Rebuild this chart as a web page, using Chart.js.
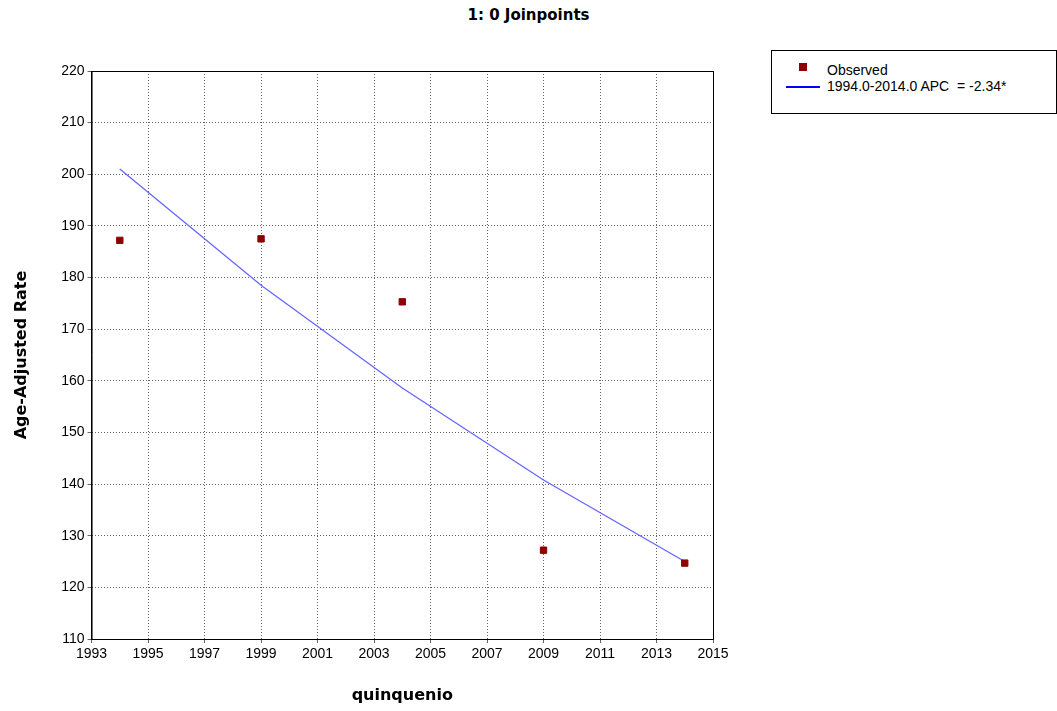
<!DOCTYPE html>
<html><head><meta charset="utf-8">
<script src="https://cdn.jsdelivr.net/npm/chart.js@4.4.0/dist/chart.umd.min.js"></script>
<style>
body{margin:0;background:#fff;font-family:"DejaVu Sans",sans-serif}
#wrap{position:absolute;left:0;top:0;width:740px;height:711px}
#leg{position:absolute;left:771px;top:50px;width:284px;height:62px;border:1px solid #000;font:14px "Liberation Sans",Arial,sans-serif;color:#000}
#ttl{position:absolute;left:0;width:1057px;top:6px;text-align:center;font:bold 15px "DejaVu Sans",sans-serif}
</style></head><body>
<div id="ttl">1: 0 Joinpoints</div>
<div id="wrap"><canvas id="c"></canvas></div>
<div id="leg">
 <div style="position:absolute;left:27px;top:12px;width:8px;height:8px;background:#8b0000"></div>
 <div style="position:absolute;left:55px;top:11px">Observed</div>
 <div style="position:absolute;left:14px;top:35px;width:34px;height:2px;background:#0000ff"></div>
 <div style="position:absolute;left:55px;top:27px">1994.0-2014.0 APC&nbsp; = -2.34*</div>
</div>
<script>
var years=[1994,1999,2004,2009,2014];
var observed=[187.2,187.5,175.3,127.2,124.7];
var modeled=[201.0,178.5,158.6,140.8,125.0];
var xTicks=[1993,1995,1997,1999,2001,2003,2005,2007,2009,2011,2013,2015];

var ctx=document.getElementById('c').getContext('2d');
var chart=new Chart(ctx,{
  type:'scatter',
  data:{datasets:[
    {label:'Observed',data:years.map(function(y,i){return {x:y,y:observed[i]};}),
     pointStyle:'rect',pointRadius:4.5,backgroundColor:'#8b0000',borderColor:'#8b0000',showLine:false,order:1},
    {label:'Model',data:years.map(function(y,i){return {x:y,y:modeled[i]};}),
     showLine:true,pointRadius:0,borderColor:'#6666ff',borderWidth:1.3,order:2}
  ]},
  options:{
    responsive:true,maintainAspectRatio:false,animation:false,
    layout:{padding:{top:71,right:27,bottom:2,left:8}},
    plugins:{legend:{display:false},tooltip:{enabled:false}},
    scales:{
      x:{type:'linear',min:1993,max:2015,
        afterBuildTicks:function(a){a.ticks=xTicks.map(function(v){return {value:v};});},
        grid:{color:'#666',tickLength:4},
        border:{color:'#000',width:1,dash:[1,2]},
        ticks:{color:'#000',font:{family:'Liberation Sans',size:14},maxRotation:0,callback:function(v){return v;}},
        title:{display:true,text:'quinquenio',color:'#000',font:{family:'DejaVu Sans',size:16,weight:'bold'},padding:{top:20}}},
      y:{min:110,max:220,
        ticks:{stepSize:10,color:'#000',font:{family:'Liberation Sans',size:14}},
        grid:{color:'#666',tickLength:4},
        border:{color:'#000',width:1,dash:[1,2]},
        title:{display:true,text:'Age-Adjusted Rate',color:'#000',font:{family:'DejaVu Sans',size:16,weight:'bold'},padding:{bottom:27}}}
    }
  },
  plugins:[{id:'frame',afterDraw:function(c){var a=c.chartArea,g=c.ctx;g.save();g.strokeStyle='#000';g.lineWidth=1;g.strokeRect(a.left+0.5,a.top+0.5,a.right-a.left,a.bottom-a.top);g.restore();}}]
});
</script>
</body></html>
